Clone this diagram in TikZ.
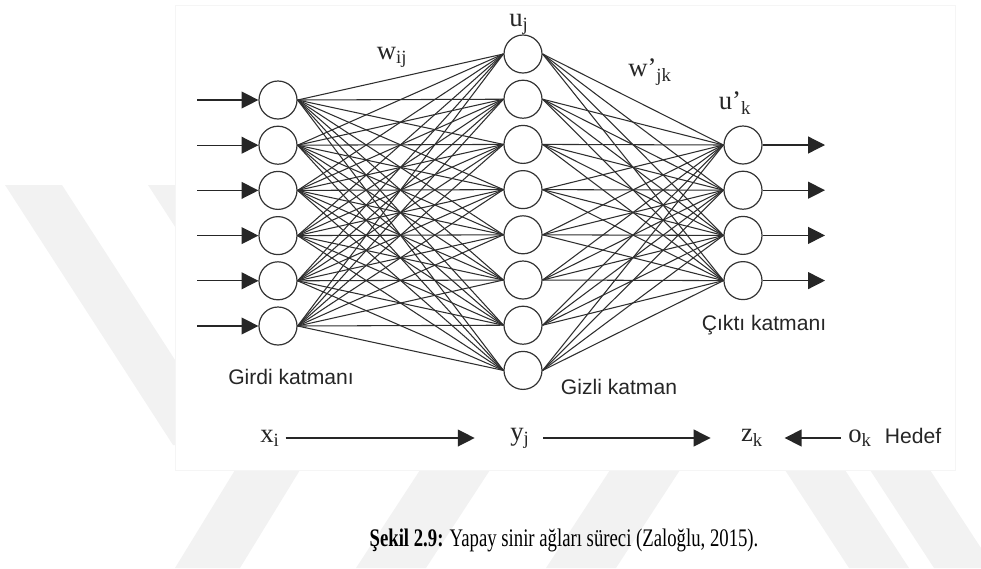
\documentclass[tikz,border=0pt]{standalone}
\usepackage{fontspec}
\setmainfont{Liberation Serif}
\setsansfont{Liberation Sans}
\usetikzlibrary{arrows.meta}
\tikzset{
    neuron/.style={circle, draw=black!80, line width=0.85pt, fill=white,
                   minimum size=0.95cm, inner sep=0pt},
    link/.style={draw=black!82, line width=0.75pt},
    signal/.style={-{Triangle[length=12pt,width=12pt]}, line width=0.9pt, draw=black!85},
    layername/.style={font=\sffamily\fontsize{15}{18}\selectfont, text=black!85},
    sym/.style={font=\fontsize{19}{21}\selectfont, text=black!85, inner sep=1pt},
    stripe/.style={fill=black!5, draw=none},
}
\newcommand{\layerrow}[4]{%
    \foreach \n in {1,...,#3}
        \node[neuron] (#1\n) at (#2, {#4+45.2*(\n-1)}) {};
}

\begin{document}
\begin{tikzpicture}[x=0.025cm, y=-0.025cm]
    \useasboundingbox (0,0) rectangle (981,568);

    % watermark stripes behind the figure
    \fill[stripe] (5,185) -- (62,185) -- (230,445) -- (173,445) -- cycle;
    \fill[stripe] (148,185) -- (203,185) -- (300,335) -- (245,335) -- cycle;
    \fill[stripe] (235,470) -- (300,470) -- (240,568) -- (175,568) -- cycle;
    \fill[stripe] (420,470) -- (490,470) -- (426,568) -- (356,568) -- cycle;
    \fill[stripe] (610,470) -- (680,470) -- (616,568) -- (546,568) -- cycle;
    \fill[stripe] (785,470) -- (845,470) -- (909,568) -- (849,568) -- cycle;
    \fill[stripe] (870,470) -- (930,470) -- (981,548) -- (981,568) -- (934,568) -- cycle;
    \filldraw[fill=white, draw=black!4] (175,5) rectangle (955,470);

    % layers
    \layerrow{in}{278}{6}{100}
    \layerrow{hid}{523}{8}{54}
    \layerrow{out}{743}{4}{145}

    \foreach \i in {1,...,6}
        \foreach \j in {1,...,8}
            \draw[link] (in\i.east) -- (hid\j.west);
    \foreach \j in {1,...,8}
        \foreach \k in {1,...,4}
            \draw[link] (hid\j.east) -- (out\k.west);

    \foreach \i in {1,...,6} {
        \coordinate (src\i) at (197, {100+45.2*(\i-1)});
        \draw[signal] (src\i) -- (in\i.west);
    }
    \foreach \k in {1,...,4} {
        \coordinate (dst\k) at (825, {145+45.2*(\k-1)});
        \draw[signal] (out\k.east) -- (dst\k);
    }

    % weights and unit labels
    \node[sym] (wij) at (392,57) {w\textsubscript{ij}};
    \node[sym] (uj) at (519,24) {u\textsubscript{j}};
    \node[sym] (wjk) at (650,72) {w’\textsubscript{jk}};
    \node[sym] (uk) at (735,103) {u’\textsubscript{k}};

    \node[layername] (girdi) at (291,377) {Girdi katmanı};
    \node[layername] (gizli) at (619,387) {Gizli katman};
    \node[layername] (cikti) at (764,325) {Çıktı katmanı};

    % signal flow row
    \node[sym] (xi) at (270,438) {x\textsubscript{i}};
    \node[sym] (yj) at (520,438) {y\textsubscript{j}};
    \node[sym] (zk) at (752,438) {z\textsubscript{k}};
    \node[sym] (ok) at (860,438) {o\textsubscript{k}};
    \node[layername, anchor=west] (hedef) at (880,436) {Hedef};
    \draw[signal, shorten <=3pt, shorten >=0.85cm] (xi.east) -- (yj.west);
    \draw[signal, shorten <=0.3cm, shorten >=0.72cm] (yj.east) -- (zk.west);
    \draw[signal, shorten <=0.15cm, shorten >=0.5cm] (ok.west) -- (zk.east);

    \node (caption) at (564,540) {\scalebox{0.74}[1]{\fontsize{18}{21}\selectfont
        \textbf{Şekil 2.9:} Yapay sinir ağları süreci (Zaloğlu, 2015).}};
\end{tikzpicture}
\end{document}
